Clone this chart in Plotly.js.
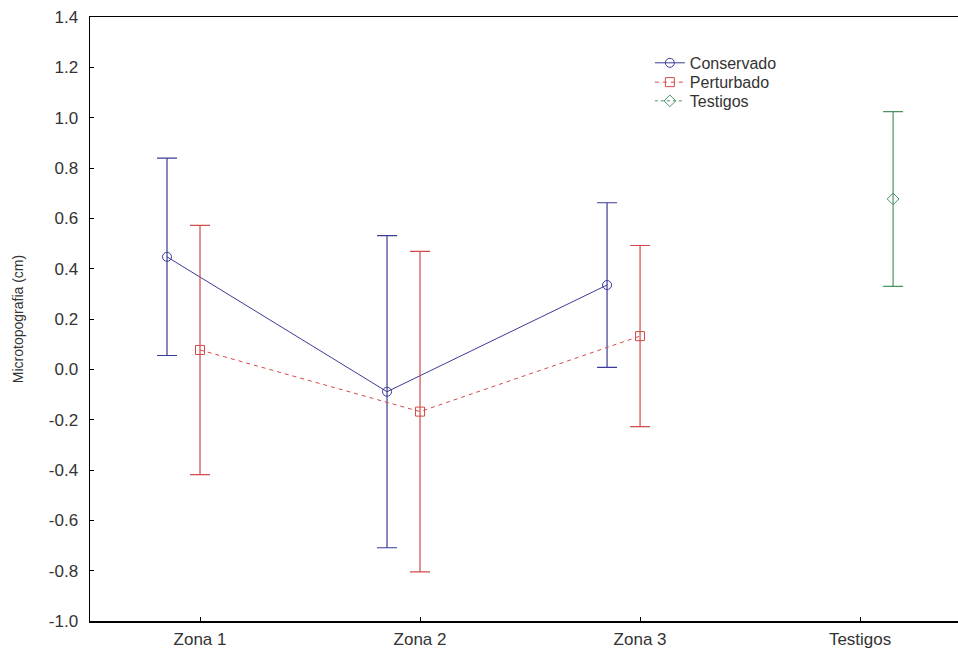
<!DOCTYPE html>
<html>
<head>
<meta charset="utf-8">
<script src="https://cdn.plot.ly/plotly-3.0.1.min.js"></script>
<style>
  html, body { margin: 0; padding: 0; background: #fff; }
  #chart { width: 958px; height: 651px; }
</style>
</head>
<body>
<div id="chart"></div>
<script>
// Category labels on the x axis
const categories = ['Zona 1', 'Zona 2', 'Zona 3', 'Testigos'];

// Group means (cm) and half-widths of the error bars
const conservadoMean = [0.447, -0.089, 0.335];
const conservadoErr  = [0.392, 0.620, 0.327];
const perturbadoMean = [0.077, -0.168, 0.132];
const perturbadoErr  = [0.495, 0.637, 0.360];
const testigosMean   = [0.677];
const testigosErr    = [0.347];

// Y axis ticks
const yTicks = [-1.0, -0.8, -0.6, -0.4, -0.2, 0.0, 0.2, 0.4, 0.6, 0.8, 1.0, 1.2, 1.4];

const blue = '#3b3b98';
const red = '#d24a4a';
const green = '#4a9462';
const textColor = '#333';

// horizontal dodge of each group around its category
const dodge = 0.15;
const xpos = (n, start, off) => Array.from({length: n}, (_, i) => start + i + off);

const traces = [
  {
    name: 'Conservado',
    legend: 'legend',
    x: xpos(conservadoMean.length, 0, -dodge),
    y: conservadoMean,
    type: 'scatter',
    mode: 'lines+markers',
    line: {color: blue, width: 1},
    marker: {symbol: 'circle-open', size: 9, color: blue, line: {width: 1}},
    error_y: {type: 'data', array: conservadoErr, visible: true, color: blue, thickness: 1.2, width: 10}
  },
  {
    name: 'Perturbado',
    legend: 'legend2',
    x: xpos(perturbadoMean.length, 0, 0),
    y: perturbadoMean,
    type: 'scatter',
    mode: 'lines+markers',
    line: {color: red, width: 1, dash: '4px,4px'},
    marker: {symbol: 'square-open', size: 9, color: red, line: {width: 1}},
    error_y: {type: 'data', array: perturbadoErr, visible: true, color: red, thickness: 1.2, width: 10}
  },
  {
    name: 'Testigos',
    legend: 'legend3',
    x: xpos(testigosMean.length, 3, dodge),
    y: testigosMean,
    type: 'scatter',
    mode: 'lines+markers',
    line: {color: green, width: 1, dash: 'dot'},
    marker: {symbol: 'diamond-open', size: 9, color: green, line: {width: 1}},
    error_y: {type: 'data', array: testigosErr, visible: true, color: green, thickness: 1.2, width: 10}
  }
];

// one legend box per series keeps the rows tightly stacked
const legendBox = (y) => ({
  x: 0.645, y: y, xanchor: 'left', yanchor: 'middle',
  bgcolor: 'rgba(0,0,0,0)',
  font: {size: 16, color: textColor},
  itemwidth: 30
});

const layout = {
  width: 958,
  height: 651,
  margin: {l: 90, r: 0, t: 17, b: 30},
  paper_bgcolor: '#ffffff',
  plot_bgcolor: '#ffffff',
  font: {family: 'Liberation Sans, Arial, sans-serif', size: 17, color: textColor},
  showlegend: true,
  legend: legendBox(0.924),
  legend2: legendBox(0.892),
  legend3: legendBox(0.861),
  xaxis: {
    range: [-0.5, 3.445],
    tickvals: [0, 1, 2, 3],
    ticktext: categories,
    showgrid: false,
    zeroline: false,
    showline: true,
    linecolor: '#000',
    linewidth: 1.5,
    mirror: true,
    ticks: 'inside',
    ticklen: 4,
    tickcolor: '#000',
    ticklabelstandoff: 2,
    tickfont: {size: 17, color: textColor}
  },
  yaxis: {
    range: [-1.0, 1.4],
    tickvals: yTicks,
    ticktext: yTicks.map(v => v.toFixed(1)),
    showgrid: false,
    zeroline: false,
    showline: true,
    linecolor: '#000',
    linewidth: 1.5,
    ticks: 'inside',
    ticklen: 4,
    tickcolor: '#000',
    ticklabelstandoff: 7,
    tickfont: {size: 17, color: textColor},
    title: {text: 'Microtopografia (cm)', font: {size: 14, color: textColor}, standoff: 22}
  }
};

Plotly.newPlot('chart', traces, layout, {displayModeBar: false, staticPlot: true});
</script>
</body>
</html>
